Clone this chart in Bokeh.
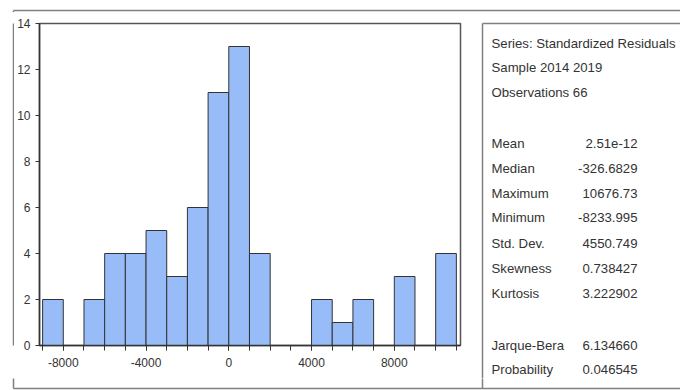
from bokeh.plotting import figure
from bokeh.layouts import row, column
from bokeh.models import Range1d, FixedTicker, ColumnDataSource
from bokeh.core.properties import value
from bokeh.embed import file_html
from bokeh.resources import INLINE

# ---- data ----
bin_left = [-9000, -8000, -7000, -6000, -5000, -4000, -3000, -2000, -1000, 0,
            1000, 2000, 3000, 4000, 5000, 6000, 7000, 8000, 9000, 10000]
counts = [2, 0, 2, 4, 4, 5, 3, 6, 11, 13, 4, 0, 0, 2, 1, 2, 0, 3, 0, 4]
bin_width = 1000
x_major = [-8000, -4000, 0, 4000, 8000]
x_minor = list(range(-9000, 11001, 1000))
y_ticks = [0, 2, 4, 6, 8, 10, 12, 14]

stat_header = ["Series: Standardized Residuals", "Sample 2014 2019", "Observations 66"]
stat_names = ["Mean", "Median", "Maximum", "Minimum", "Std. Dev.", "Skewness", "Kurtosis",
              "Jarque-Bera", "Probability"]
stat_values = ["2.51e-12", "-326.6829", "10676.73", "-8233.995", "4550.749", "0.738427",
               "3.222902", "6.134660", "0.046545"]

# ---- layout (page pixel positions) ----
FONT = "Liberation Sans"
TXT = "#333333"
FRAME_C = "#808080"

X0, X1 = 0, 680
TOP_Y1 = 12
MID_Y0, MID_Y1 = 12, 378
BOT_Y0, BOT_Y1 = 378, 390
LEFT_X1 = 14
HIST_X1 = 470
OUTER_L, OUTER_T, OUTER_B = 13, 10, 388
STAT_L, STAT_T = 482, 23


def strip(x0, x1, y0, y1):
    f = figure(width=x1 - x0, height=y1 - y0, x_range=Range1d(x0, x1), y_range=Range1d(y1, y0),
               x_axis_type=None, y_axis_type=None, output_backend="svg", toolbar_location=None,
               min_border=0, min_border_left=0, min_border_right=0, min_border_top=0,
               min_border_bottom=0)
    f.outline_line_color = None
    f.background_fill_color = "white"
    f.border_fill_color = "white"
    return f


# top strip: top line of the outer frame
top = strip(X0, X1, 0, TOP_Y1)
top.segment(x0=[OUTER_L, OUTER_L], y0=[OUTER_T, OUTER_T], x1=[X1 + 5, OUTER_L], y1=[OUTER_T, TOP_Y1 + 1],
            line_color=FRAME_C, line_width=1.5)

# left strip: left line of outer frame
left = strip(X0, LEFT_X1, MID_Y0, MID_Y1)
left.segment(x0=[OUTER_L], y0=[MID_Y0 - 1], x1=[OUTER_L], y1=[MID_Y1 + 1],
             line_color=FRAME_C, line_width=1.5)

# bottom strip: bottom line of outer frame
bot = strip(X0, X1, BOT_Y0, BOT_Y1)
bot.segment(x0=[OUTER_L, OUTER_L, STAT_L], y0=[OUTER_B, BOT_Y0 - 1, BOT_Y0 - 1],
            x1=[X1 + 5, OUTER_L, STAT_L], y1=[OUTER_B, OUTER_B, OUTER_B],
            line_color=FRAME_C, line_width=1.5)

# histogram figure
FL, FR, FT, FB = 37, 460, 23, 345   # frame edges on page
p = figure(width=HIST_X1 - LEFT_X1, height=MID_Y1 - MID_Y0,
           x_range=Range1d(-9150, 11200), y_range=Range1d(0, 14),
           output_backend="svg", toolbar_location=None,
           min_border_left=FL - LEFT_X1, min_border_right=HIST_X1 - FR,
           min_border_top=FT - MID_Y0, min_border_bottom=MID_Y1 - FB)
p.xgrid.visible = False
p.ygrid.visible = False
p.outline_line_color = "#555555"
p.outline_line_width = 1.5
p.background_fill_color = "white"
p.border_fill_color = "white"

src = ColumnDataSource(dict(left=bin_left,
                            right=[b + bin_width for b in bin_left],
                            top=counts,
                            bottom=[0] * len(counts)))
p.quad(left="left", right="right", top="top", bottom="bottom", source=src,
       fill_color="#97BCF8", line_color="#333333", line_width=1)

xa = p.xaxis[0]
xa.ticker = FixedTicker(ticks=x_major, minor_ticks=x_minor)
xa.major_label_overrides = {v: str(v) for v in x_major}
xa.major_tick_in = 0
xa.major_tick_out = 5
xa.minor_tick_in = 0
xa.minor_tick_out = 5
xa.major_label_standoff = 7
xa.axis_line_color = "#333333"
xa.axis_line_width = 1.5
xa.major_tick_line_color = "#333333"
xa.minor_tick_line_color = "#333333"
xa.major_label_text_font = FONT
xa.major_label_text_font_size = "12px"
xa.major_label_text_color = TXT

ya = p.yaxis[0]
ya.ticker = FixedTicker(ticks=y_ticks)
ya.major_tick_in = 0
ya.major_tick_out = 4
ya.minor_tick_out = 0
ya.major_label_standoff = 5
ya.axis_line_color = "#333333"
ya.axis_line_width = 1.5
ya.major_tick_line_color = "#333333"
ya.major_label_text_font = FONT
ya.major_label_text_font_size = "12px"
ya.major_label_text_color = TXT

# statistics panel
s = strip(HIST_X1, X1, MID_Y0, MID_Y1)
s.segment(x0=[STAT_L, STAT_L], y0=[STAT_T, STAT_T], x1=[STAT_L, X1 + 5], y1=[MID_Y1 + 1, STAT_T],
          line_color=FRAME_C, line_width=1.5)

NAME_X, VAL_X = 491, 637
header_y = [43, 67, 92]
stat_y = [143, 168, 193, 217, 243, 268, 293, 345, 369]
FS = "13.2px"
s.text(x=[NAME_X] * len(stat_header), y=header_y, text=stat_header,
       text_font=value(FONT), text_font_size=value(FS), text_color=TXT,
       text_baseline=value("middle"), text_align=value("left"))
s.text(x=[NAME_X] * len(stat_names), y=stat_y, text=stat_names,
       text_font=value(FONT), text_font_size=value(FS), text_color=TXT,
       text_baseline=value("middle"), text_align=value("left"))
s.text(x=[VAL_X] * len(stat_values), y=stat_y, text=stat_values,
       text_font=value(FONT), text_font_size=value(FS), text_color=TXT,
       text_baseline=value("middle"), text_align=value("right"))

layout = column(top, row(left, p, column(s)), bot)
open("out.html", "w").write(file_html(layout, INLINE))
